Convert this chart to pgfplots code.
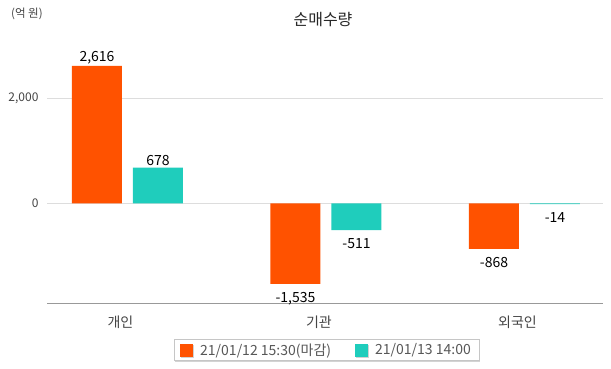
\documentclass[border=0pt]{standalone}
\usepackage{pgfplots}
\pgfplotsset{compat=1.18}
\usepackage{fontspec}
\setmainfont{Noto Sans CJK KR}
\usetikzlibrary{shadows}
\definecolor{cOrange}{HTML}{FF5200}
\definecolor{cTeal}{HTML}{1FCDBC}
\definecolor{cGrid}{HTML}{DDDDDD}
\definecolor{cAxis}{HTML}{999999}
\definecolor{cTick}{HTML}{444444}
\begin{document}
\begin{tikzpicture}[x=1pt,y=1pt]
\path[use as bounding box] (0,0) rectangle (611,368);
\node[font=\fontsize{11.5}{13}\selectfont, text=cTick, anchor=west, inner sep=0pt] at (11,354) {(억 원)};
\node[font=\fontsize{16}{18}\selectfont, text=black!85, inner sep=0pt] at (323,348) {순매수량};
\begin{axis}[
  at={(47pt,64.7pt)}, anchor=south west,
  scale only axis, width=556pt, height=257.5pt,
  xmin=-0.4055, xmax=2.3955,
  ymin=-1905, ymax=3000,
  ybar=11pt, bar width=50pt,
  axis x line=bottom, axis y line=left,
  x axis line style={draw=cAxis, line width=0.8pt, -},
  y axis line style={draw=none},
  major tick length=0pt,
  ymajorgrids, major grid style={draw=cGrid, line width=0.6pt},
  xtick={0,1,2}, xticklabels={개인,기관,외국인},
  ytick={0,2000},
  /pgf/number format/.cd, 1000 sep={,}, assume math mode=true, /pgfplots/.cd,
  xticklabel style={font=\fontsize{14}{16}\selectfont, text=cTick, xshift=-7pt, yshift=-9pt},
  yticklabel style={font=\fontsize{12}{14}\selectfont, text=cTick, xshift=-5pt},
  nodes near coords, nodes near coords align={vertical},
  visualization depends on={y \as \rawy},
  every node near coord/.append style={font=\fontsize{14}{16}\selectfont, text=black, inner sep=2pt,
    yshift={ifthenelse(\rawy<0,-6,0)}},
  legend style={at={(0.5027,-0.1814)}, anchor=center, draw=gray!45,
    drop shadow={shadow xshift=1.2pt, shadow yshift=-1.2pt, opacity=0.35},
    font=\fontsize{14}{16}\selectfont, text=cTick!90, inner xsep=6pt, inner ysep=2pt,
    /tikz/every odd column/.append style={column sep=5pt},
    /tikz/every even column/.append style={column sep=22pt}},
  legend columns=2,
  legend image code/.code={\fill[#1,draw=none] (0pt,-6.5pt) rectangle (13pt,6.5pt);},
]
\addplot[fill=cOrange, draw=none] coordinates {(0,2616) (1,-1535) (2,-868)};
\addplot[fill=cTeal, draw=none] coordinates {(0,678) (1,-511) (2,-14)};
\legend{21/01/12 15:30(마감), 21/01/13 14:00}
\end{axis}
\end{tikzpicture}
\end{document}
